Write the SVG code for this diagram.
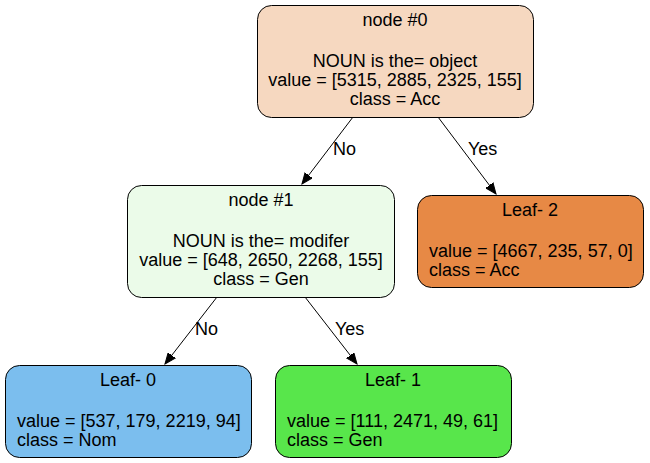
<svg xmlns="http://www.w3.org/2000/svg" width="650" height="463" viewBox="0 0 650 463">
<defs>
<marker id="ah" markerWidth="12" markerHeight="10" refX="11" refY="5" orient="auto" markerUnits="userSpaceOnUse">
<path d="M0,0.5 L11,5 L0,9.5 Z" fill="#000" stroke="#000" stroke-width="1"/>
</marker>
</defs>
<style>
text{font-family:"Liberation Sans",Arial,Helvetica,sans-serif;font-size:18px;fill:#000}
.c{text-anchor:middle}
.box{stroke:#000;stroke-width:1}
.edge{stroke:#000;stroke-width:1;fill:none;marker-end:url(#ah)}
</style>
<rect width="650" height="463" fill="#fff"/>
<g id="edges">
<line class="edge" x1="353" y1="117" x2="302" y2="184"/>
<text x="333" y="155">No</text>
<line class="edge" x1="438" y1="117" x2="496" y2="194"/>
<text x="468" y="155">Yes</text>
<line class="edge" x1="217" y1="297" x2="165" y2="364"/>
<text x="195" y="335">No</text>
<line class="edge" x1="305" y1="297" x2="357" y2="364"/>
<text x="335" y="335">Yes</text>
</g>
<g id="node0">
<rect class="box" x="257.5" y="5.5" width="276" height="112" rx="14" fill="#f6d8c0"/>
<text class="c" x="395" y="26">node #0</text>
<text class="c" x="395" y="67">NOUN is the= object</text>
<text class="c" x="395" y="86">value = [5315, 2885, 2325, 155]</text>
<text class="c" x="395" y="105">class = Acc</text>
</g>
<g id="node1">
<rect class="box" x="127.5" y="185.5" width="267" height="112" rx="14" fill="#ebfbe9"/>
<text class="c" x="261" y="206">node #1</text>
<text class="c" x="261" y="247">NOUN is the= modifer</text>
<text class="c" x="261" y="266">value = [648, 2650, 2268, 155]</text>
<text class="c" x="261" y="285">class = Gen</text>
</g>
<g id="leaf2">
<rect class="box" x="417.5" y="195.5" width="226" height="92" rx="14" fill="#e78945"/>
<text class="c" x="530" y="216">Leaf- 2</text>
<text x="429" y="257">value = [4667, 235, 57, 0]</text>
<text x="429" y="276">class = Acc</text>
</g>
<g id="leaf0">
<rect class="box" x="5.5" y="365.5" width="246" height="92" rx="14" fill="#7bbeee"/>
<text class="c" x="128" y="386">Leaf- 0</text>
<text x="17" y="427">value = [537, 179, 2219, 94]</text>
<text x="17" y="446">class = Nom</text>
</g>
<g id="leaf1">
<rect class="box" x="275.5" y="365.5" width="236" height="92" rx="14" fill="#58e64b"/>
<text class="c" x="393" y="386">Leaf- 1</text>
<text x="287" y="427">value = [111, 2471, 49, 61]</text>
<text x="287" y="446">class = Gen</text>
</g>
</svg>
